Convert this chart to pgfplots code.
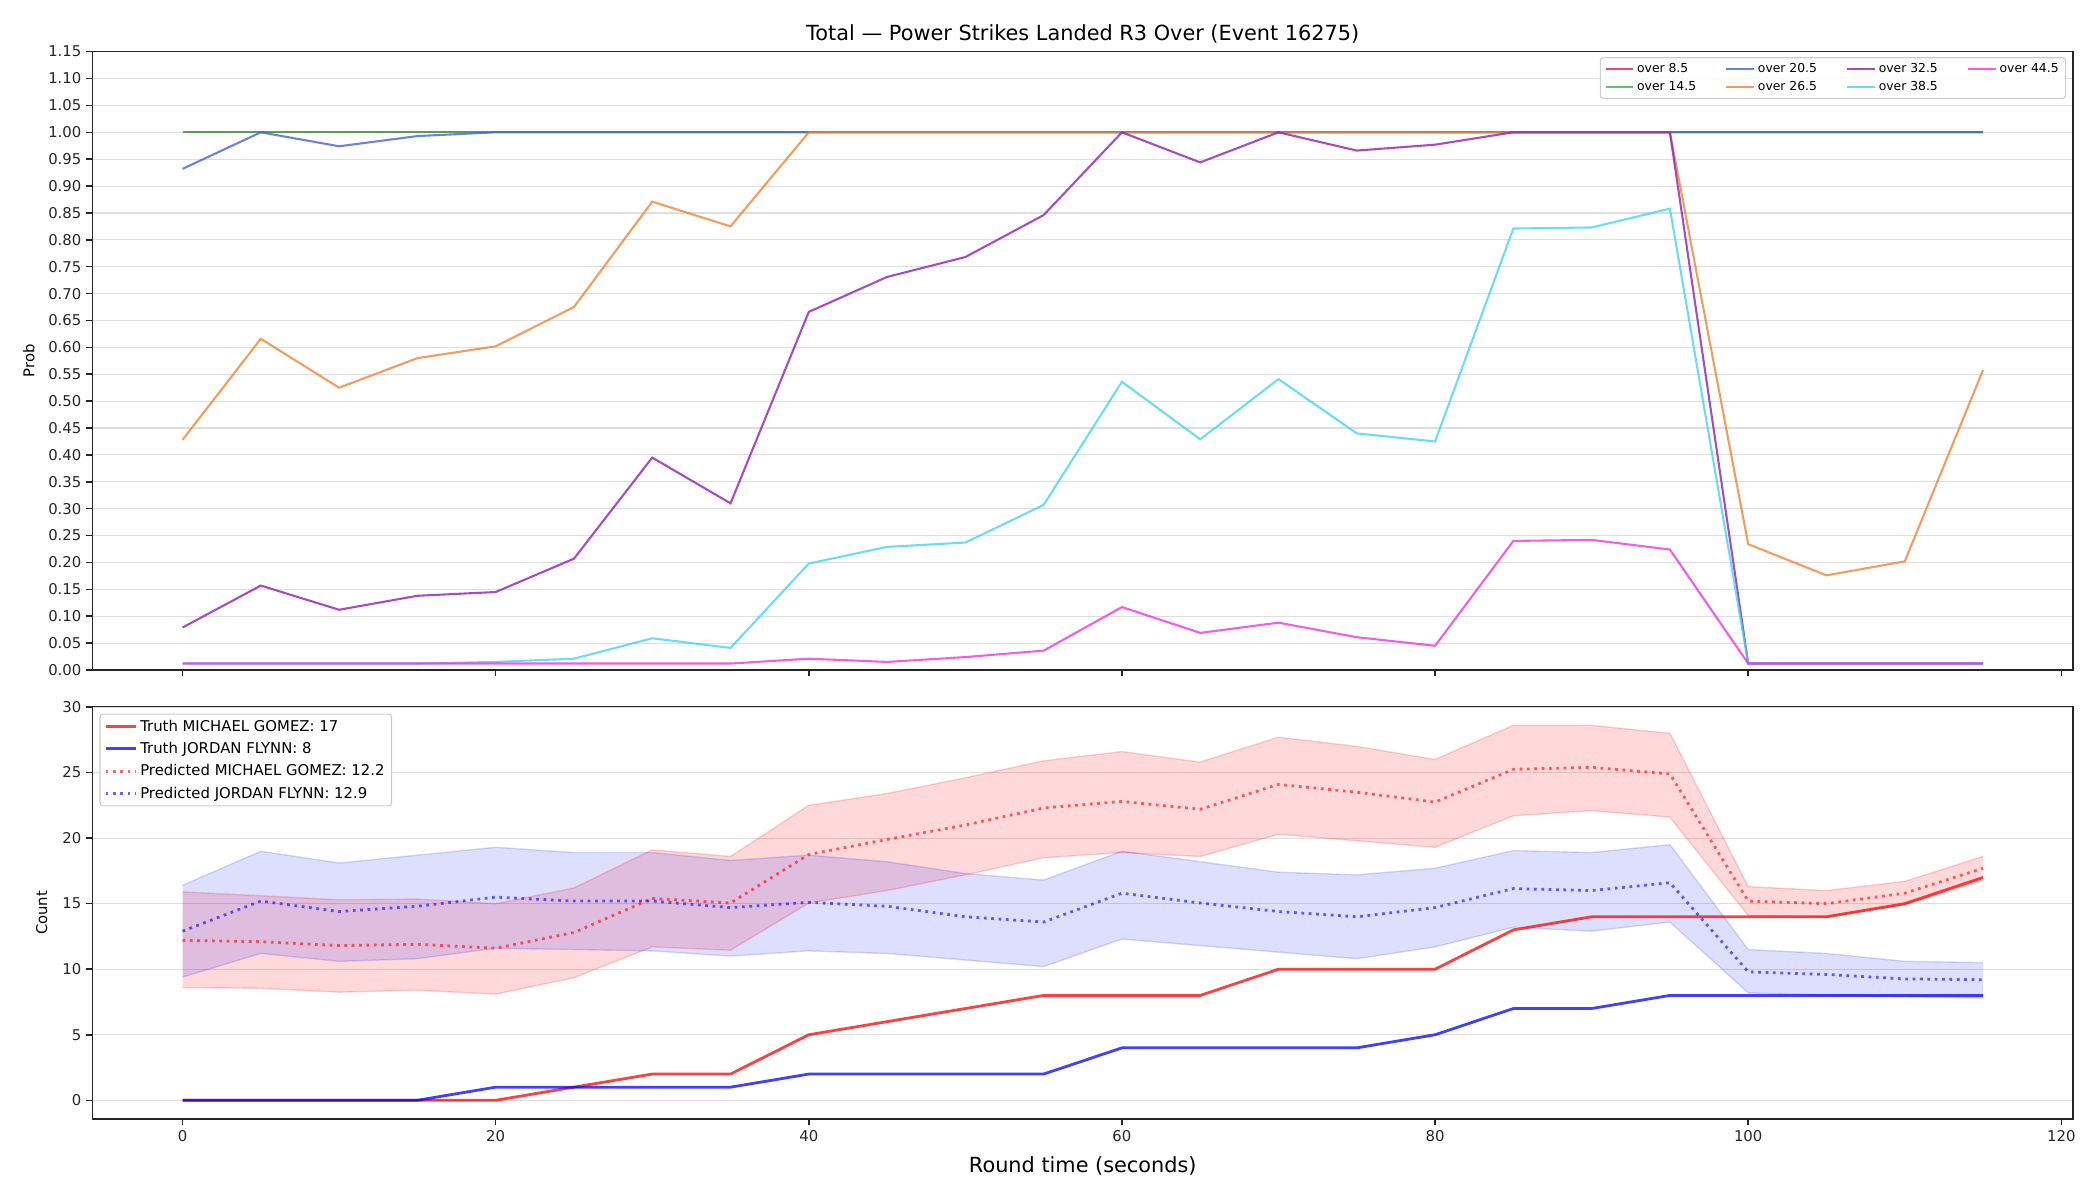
\documentclass[border=0pt]{standalone}
\usepackage{fontspec}
\setmainfont{DejaVu Sans}
\usepackage{pgfplots}
\pgfplotsset{compat=1.18}
\usepackage{pgfplotstable}
\usepgfplotslibrary{fillbetween}

% line palette for the threshold curves
\definecolor{cA}{HTML}{E6194B}
\definecolor{cB}{HTML}{3CB44B}
\definecolor{cC}{HTML}{4363D8}
\definecolor{cD}{HTML}{F58231}
\definecolor{cE}{HTML}{911EB4}
\definecolor{cF}{HTML}{42D4F4}
\definecolor{cG}{HTML}{F032E6}
\definecolor{axcol}{HTML}{262626}

% probability of going over each line, per 5 s of round time
\pgfplotstableread{
t   o85 o145 o205  o265  o325  o385  o445
0   1   1    0.932 0.428 0.079 0.012 0.012
5   1   1    1.000 0.616 0.157 0.012 0.012
10  1   1    0.974 0.525 0.112 0.012 0.012
15  1   1    0.993 0.580 0.138 0.012 0.012
20  1   1    1.000 0.602 0.145 0.015 0.012
25  1   1    1.000 0.675 0.207 0.021 0.012
30  1   1    1.000 0.871 0.395 0.059 0.012
35  1   1    1.000 0.825 0.310 0.041 0.012
40  1   1    1.000 1.000 0.666 0.198 0.021
45  1   1    1.000 1.000 0.731 0.229 0.015
50  1   1    1.000 1.000 0.768 0.237 0.024
55  1   1    1.000 1.000 0.846 0.307 0.036
60  1   1    1.000 1.000 1.000 0.536 0.117
65  1   1    1.000 1.000 0.944 0.429 0.069
70  1   1    1.000 1.000 1.000 0.541 0.088
75  1   1    1.000 1.000 0.966 0.440 0.061
80  1   1    1.000 1.000 0.977 0.425 0.045
85  1   1    1.000 1.000 1.000 0.821 0.240
90  1   1    1.000 1.000 1.000 0.823 0.242
95  1   1    1.000 1.000 1.000 0.858 0.224
100 1   1    1.000 0.234 0.012 0.012 0.012
105 1   1    1.000 0.176 0.012 0.012 0.012
110 1   1    1.000 0.202 0.012 0.012 0.012
115 1   1    1.000 0.558 0.012 0.012 0.012
}\probs

% landed counts: truth, predicted mean and band for each fighter
\pgfplotstableread{
t   rt bt rm    ru    rl    bm    bu    bl
0   0  0  12.2  15.9  8.6   12.9  16.4  9.4
5   0  0  12.1  15.6  8.55  15.2  19.0  11.2
10  0  0  11.8  15.3  8.25  14.4  18.1  10.6
15  0  0  11.9  15.35 8.4   14.8  18.7  10.8
20  0  1  11.6  15.0  8.1   15.5  19.3  11.6
25  1  1  12.8  16.2  9.35  15.2  18.9  11.5
30  2  1  15.4  19.1  11.7  15.2  18.9  11.4
35  2  1  15.05 18.6  11.45 14.7  18.3  11.0
40  5  2  18.75 22.5  15.05 15.1  18.7  11.4
45  6  2  19.9  23.4  16.0  14.8  18.2  11.2
50  7  2  21.0  24.6  17.2  14.0  17.3  10.7
55  8  2  22.3  25.9  18.5  13.6  16.8  10.2
60  8  4  22.8  26.6  18.9  15.8  19.0  12.3
65  8  4  22.2  25.8  18.6  15.05 18.2  11.8
70  10 4  24.1  27.7  20.3  14.4  17.4  11.3
75  10 4  23.5  27.0  19.8  14.0  17.2  10.8
80  10 5  22.75 26.0  19.3  14.7  17.7  11.7
85  13 7  25.25 28.6  21.7  16.15 19.05 13.2
90  14 7  25.4  28.6  22.1  16.0  18.9  12.9
95  14 8  24.9  28.0  21.6  16.6  19.5  13.6
100 14 8  15.2  16.3  14.1  9.8   11.5  8.2
105 14 8  15.0  16.0  14.0  9.6   11.2  8.0
110 15 8  15.8  16.7  14.9  9.26  10.6  7.9
115 17 8  17.7  18.6  16.8  9.2   10.5  7.8
}\counts

\pgfplotsset{
  panel/.style={
    scale only axis, width=1426pt,
    xmin=-5.75, xmax=120.75,
    xtick={0,20,40,60,80,100,120},
    axis line style={axcol, line width=1.1pt},
    tick align=outside, xtick pos=lower, ytick pos=left,
    major tick length=4.5pt,
    tick style={axcol, line width=1.1pt},
    ymajorgrids, grid style={black!13, line width=0.8pt},
    tick label style={font=\fontsize{10.7}{12.8}\selectfont, text=axcol},
    label style={font=\fontsize{10.7}{12.8}\selectfont},
    /pgf/number format/assume math mode=true,
    legend cell align=left,
    legend image code/.code={\draw[##1] (0pt,0pt) -- (22pt,0pt);},
  },
  prob/.style={line width=1.5pt, draw opacity=0.8, forget plot},
}

\begin{document}
\begin{tikzpicture}

% ---- upper panel: over/under probabilities ----
\begin{axis}[panel,
  at={(66.6pt,381.6pt)}, anchor=south west, height=445.2pt,
  ymin=0, ymax=1.15,
  ytick={0,0.05,0.10,0.15,0.20,0.25,0.30,0.35,0.40,0.45,0.50,0.55,0.60,0.65,0.70,0.75,0.80,0.85,0.90,0.95,1.00,1.05,1.10,1.15},
  yticklabel style={/pgf/number format/.cd, fixed, fixed zerofill, precision=2},
  xticklabels={},
  ylabel={Prob},
  ylabel style={yshift=3pt},
  title={Total — Power Strikes Landed R3 Over (Event 16275)},
  title style={font=\fontsize{15}{18}\selectfont, yshift=-3.5pt},
  legend columns=4,
  legend style={at={(1,1)}, anchor=north east, xshift=-5pt, yshift=-4pt,
    font=\fontsize{8.9}{10.7}\selectfont, draw=black!20, line width=0.8pt,
    rounded corners=2pt, fill=white, fill opacity=0.8, text opacity=1,
    row sep=1pt,
    /tikz/every even column/.append style={column sep=19pt}},
  legend image code/.code={\draw[#1] (0pt,0pt) -- (20pt,0pt);},
]
\addplot[prob, cA] table[x=t, y=o85]  {\probs};
\addplot[prob, cB] table[x=t, y=o145] {\probs};
\addplot[prob, cC] table[x=t, y=o205] {\probs};
\addplot[prob, cD] table[x=t, y=o265] {\probs};
\addplot[prob, cE] table[x=t, y=o325] {\probs};
\addplot[prob, cF] table[x=t, y=o385] {\probs};
\addplot[prob, cG] table[x=t, y=o445] {\probs};
% legend filled column by column: 8.5/14.5, 20.5/26.5, 32.5/38.5, 44.5
\addlegendimage{line width=1.5pt, draw opacity=0.8, cA}
\addlegendimage{line width=1.5pt, draw opacity=0.8, cC}
\addlegendimage{line width=1.5pt, draw opacity=0.8, cE}
\addlegendimage{line width=1.5pt, draw opacity=0.8, cG}
\addlegendimage{line width=1.5pt, draw opacity=0.8, cB}
\addlegendimage{line width=1.5pt, draw opacity=0.8, cD}
\addlegendimage{line width=1.5pt, draw opacity=0.8, cF}
\legend{over 8.5, over 20.5, over 32.5, over 44.5, over 14.5, over 26.5, over 38.5}
\end{axis}

% ---- lower panel: counts ----
\begin{axis}[panel,
  at={(66.6pt,58.3pt)}, anchor=south west, height=296.9pt,
  ymin=-1.43, ymax=30.03,
  ytick={0,5,10,15,20,25,30},
  ylabel={Count},
  ylabel style={yshift=4pt},
  xlabel={Round time (seconds)},
  xlabel style={font=\fontsize{15}{18}\selectfont, yshift=-4pt},
  legend style={at={(0,1)}, anchor=north west, xshift=5pt, yshift=-5pt,
    font=\fontsize{10.7}{12.8}\selectfont, draw=black!20, line width=0.8pt,
    rounded corners=2pt, fill=white, fill opacity=0.8, text opacity=1,
    row sep=2.5pt},
]
\addplot[name path=ru, red, draw opacity=0.18, line width=1pt, forget plot] table[x=t, y=ru] {\counts};
\addplot[name path=rl, red, draw opacity=0.18, line width=1pt, forget plot] table[x=t, y=rl] {\counts};
\addplot[red, fill opacity=0.15, draw=none, forget plot] fill between[of=ru and rl];
\addplot[name path=bu, blue, draw opacity=0.15, line width=1pt, forget plot] table[x=t, y=bu] {\counts};
\addplot[name path=bl, blue, draw opacity=0.15, line width=1pt, forget plot] table[x=t, y=bl] {\counts};
\addplot[blue, fill opacity=0.13, draw=none, forget plot] fill between[of=bu and bl];

\addplot[red, line width=2pt, draw opacity=0.75] table[x=t, y=rt] {\counts};
\addplot[blue, line width=2pt, draw opacity=0.75] table[x=t, y=bt] {\counts};
\addplot[red, line width=2pt, draw opacity=0.6, dash pattern=on 2pt off 3.3pt] table[x=t, y=rm] {\counts};
\addplot[blue, line width=2pt, draw opacity=0.6, dash pattern=on 2pt off 3.3pt] table[x=t, y=bm] {\counts};
\legend{Truth MICHAEL GOMEZ: 17, Truth JORDAN FLYNN: 8, Predicted MICHAEL GOMEZ: 12.2, Predicted JORDAN FLYNN: 12.9}
\end{axis}

% page frame
\path (0,0) rectangle (1512pt,864pt);
\end{tikzpicture}
\end{document}
